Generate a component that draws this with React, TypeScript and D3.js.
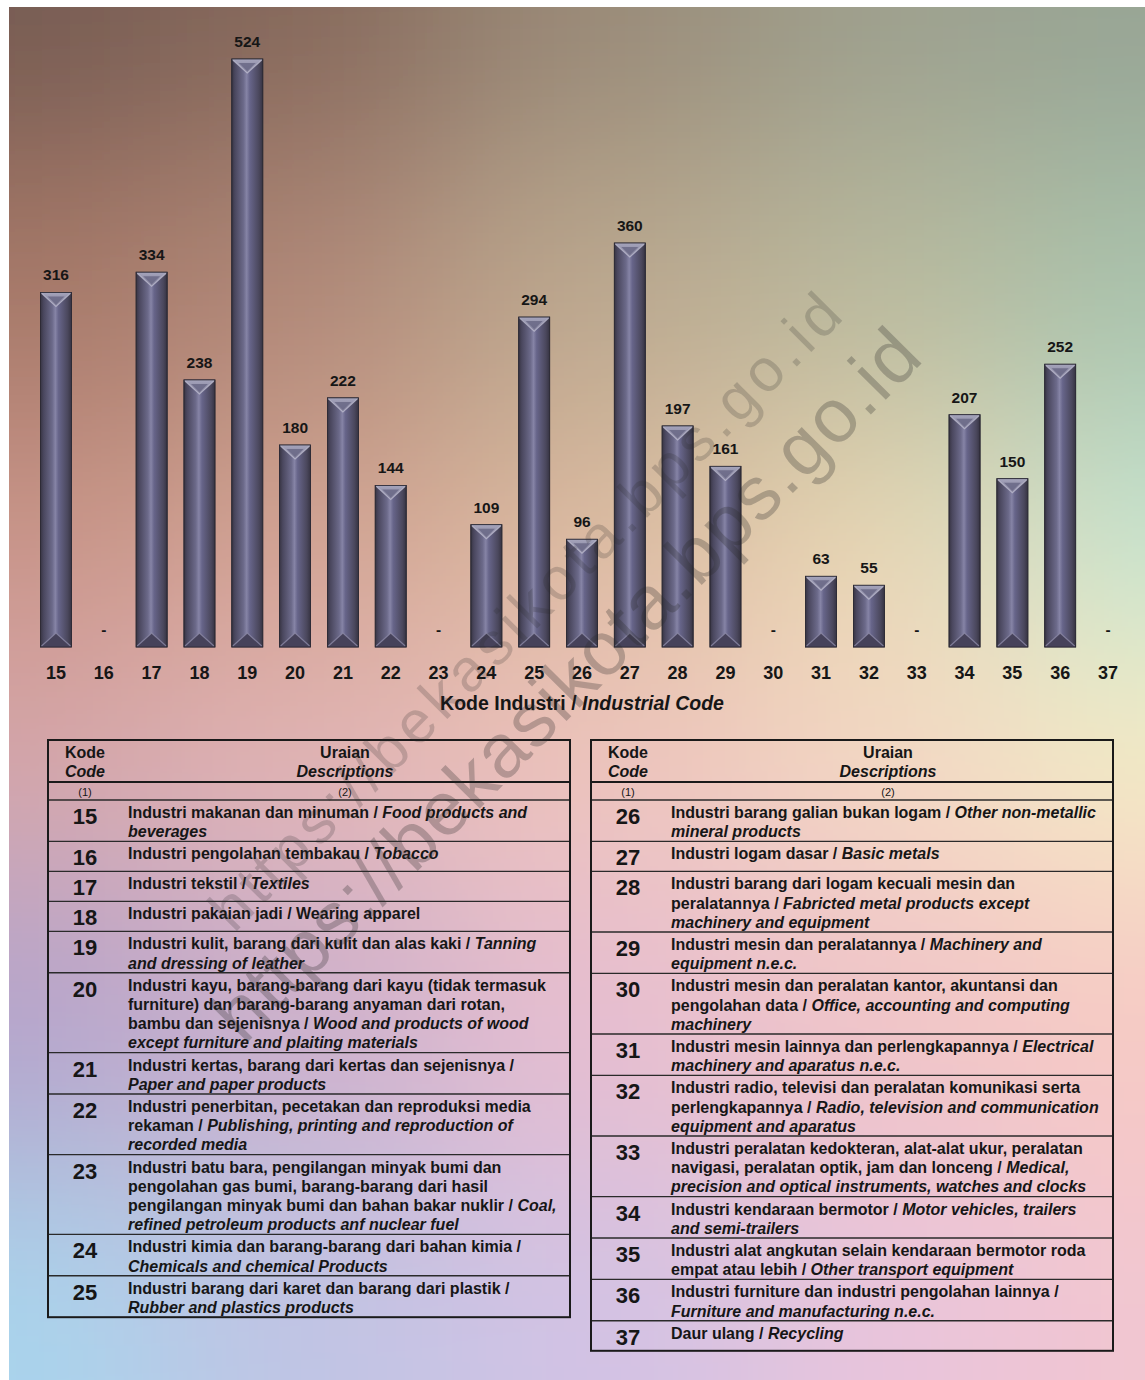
import React from "react";
import * as d3 from "d3";

// ---------- DATA ----------
const codes = ["15","16","17","18","19","20","21","22","23","24","25","26","27","28","29","30","31","32","33","34","35","36","37"];
const counts: (number | null)[] = [316, null, 334, 238, 524, 180, 222, 144, null, 109, 294, 96, 360, 197, 161, null, 63, 55, null, 207, 150, 252, null];
const axisTitleId = "Kode Industri / ";
const axisTitleEn = "Industrial Code";

const headerCodeId = "Kode";
const headerCodeEn = "Code";
const headerDescId = "Uraian";
const headerDescEn = "Descriptions";
const headerNums = ["(1)", "(2)"];

// italic parts wrapped in underscores
const leftTableCodes = ["15","16","17","18","19","20","21","22","23","24","25"];
const leftTableText: string[][] = [
  ["Industri makanan dan minuman / _Food products and_", "_beverages_"],
  ["Industri pengolahan tembakau / _Tobacco_"],
  ["Industri tekstil / _Textiles_"],
  ["Industri pakaian jadi / Wearing apparel"],
  ["Industri kulit, barang dari kulit dan alas kaki / _Tanning_", "_and dressing of leather_"],
  ["Industri kayu, barang-barang dari kayu (tidak termasuk", "furniture) dan barang-barang anyaman dari rotan,", "bambu dan sejenisnya / _Wood and products of wood_", "_except furniture and plaiting materials_"],
  ["Industri kertas, barang dari kertas dan sejenisnya /", "_Paper and paper products_"],
  ["Industri penerbitan, pecetakan dan reproduksi media", "rekaman / _Publishing, printing and reproduction of_", "_recorded media_"],
  ["Industri batu bara, pengilangan minyak bumi dan", "pengolahan gas bumi, barang-barang dari hasil", "pengilangan minyak bumi dan bahan bakar nuklir / _Coal,_", "_refined petroleum products anf nuclear fuel_"],
  ["Industri kimia dan barang-barang dari bahan kimia /", "_Chemicals and chemical Products_"],
  ["Industri barang dari karet dan barang dari plastik /", "_Rubber and plastics products_"],
];
const rightTableCodes = ["26","27","28","29","30","31","32","33","34","35","36","37"];
const rightTableText: string[][] = [
  ["Industri barang galian bukan logam / _Other non-metallic_", "_mineral products_"],
  ["Industri logam dasar / _Basic metals_"],
  ["Industri barang dari logam kecuali mesin dan", "peralatannya / _Fabricted metal products except_", "_machinery and equipment_"],
  ["Industri mesin dan peralatannya / _Machinery and_", "_equipment n.e.c._"],
  ["Industri mesin dan peralatan kantor, akuntansi dan", "pengolahan data / _Office, accounting and computing_", "_machinery_"],
  ["Industri mesin lainnya dan perlengkapannya / _Electrical_", "_machinery and aparatus n.e.c._"],
  ["Industri radio, televisi dan peralatan komunikasi serta", "perlengkapannya / _Radio, television and communication_", "_equipment and aparatus_"],
  ["Industri peralatan kedokteran, alat-alat ukur, peralatan", "navigasi, peralatan optik, jam dan lonceng / _Medical,_", "_precision and optical instruments, watches and clocks_"],
  ["Industri kendaraan bermotor / _Motor vehicles, trailers_", "_and semi-trailers_"],
  ["Industri alat angkutan selain kendaraan bermotor roda", "empat atau lebih / _Other transport equipment_"],
  ["Industri furniture dan industri pengolahan lainnya /", "_Furniture and manufacturing n.e.c._"],
  ["Daur ulang / _Recycling_"],
];

const watermarkText = "https://bekasikota.bps.go.id";

// background colour field (style)
const bgXs = [20, 300, 600, 900, 1130];
const bgYs = [20, 300, 550, 750, 1000, 1350];
const bgColors = [
  ["#765c52", "#86695c", "#9a8a78", "#9ea08e", "#97a595"],
  ["#a67868", "#b08878", "#bba88f", "#b9ba9e", "#a9c2ac"],
  ["#c99488", "#d2a392", "#dcbba0", "#e8d8b4", "#c4e4d0"],
  ["#d6a6a8", "#e2b4b4", "#eec4bc", "#f4d8c4", "#f4ecc4"],
  ["#b4a4cc", "#ccb0cc", "#e6bed0", "#f0c4c8", "#f6cac4"],
  ["#a8d4ec", "#c0c4e4", "#d2c2e4", "#e8c4dc", "#f2c6d0"],
];

// ---------- HELPERS ----------
const W = 1145, H = 1380;
const FONT = "'Liberation Sans', Arial, Helvetica, sans-serif";
const TXT = "#161616";

function parts(line: string) {
  return line.split("_").map((t, i) => ({ t, it: i % 2 === 1 })).filter(p => p.t.length > 0);
}
function bounds(c: number[]) {
  const b = [c[0] - 400];
  for (let i = 0; i < c.length - 1; i++) b.push((c[i] + c[i + 1]) / 2);
  b.push(c[c.length - 1] + 400);
  return b;
}
const rowHeight = (n: number) => (n === 1 ? 30 : n * 19.2 + 3);

function Table({ x0, x1, top, rowCodes, rowText }: { x0: number; x1: number; top: number; rowCodes: string[]; rowText: string[][] }) {
  const headH = 42, subH = 18;
  const codeX = x0 + 37, descCX = x0 + 297, descX = x0 + 80;
  let yy = top + headH + subH;
  const rows = rowCodes.map((c, i) => {
    const h = rowHeight(rowText[i].length);
    const r = { code: c, lines: rowText[i], y: yy, h };
    yy += h;
    return r;
  });
  const bottom = yy;
  return (
    <g fontFamily={FONT} fill={TXT}>
      <text x={codeX} y={top + 18} textAnchor="middle" fontWeight="bold" fontSize={16}>{headerCodeId}</text>
      <text x={codeX} y={top + 37} textAnchor="middle" fontWeight="bold" fontStyle="italic" fontSize={16}>{headerCodeEn}</text>
      <text x={descCX} y={top + 18} textAnchor="middle" fontWeight="bold" fontSize={16}>{headerDescId}</text>
      <text x={descCX} y={top + 37} textAnchor="middle" fontWeight="bold" fontStyle="italic" fontSize={16}>{headerDescEn}</text>
      <text x={codeX} y={top + headH + 14} textAnchor="middle" fontSize={11}>{headerNums[0]}</text>
      <text x={descCX} y={top + headH + 14} textAnchor="middle" fontSize={11}>{headerNums[1]}</text>
      <line x1={x0} x2={x1} y1={top + headH} y2={top + headH} stroke="#1a1a1a" strokeWidth={2} />
      {rows.map((r, i) => (
        <g key={r.code}>
          <line x1={x0} x2={x1} y1={r.y} y2={r.y} stroke="#2a2a2a" strokeWidth={1.4} />
          <text x={codeX} y={r.y + 24} textAnchor="middle" fontWeight="bold" fontSize={22}>{r.code}</text>
          {r.lines.map((ln, k) => (
            <text key={k} x={descX} y={r.y + 18 + k * 19.2} fontWeight="bold" fontSize={16}>
              {parts(ln).map((p, m) => (
                <tspan key={m} fontStyle={p.it ? "italic" : "normal"}>{p.t}</tspan>
              ))}
            </text>
          ))}
        </g>
      ))}
      <rect x={x0} y={top} width={x1 - x0} height={bottom - top} fill="none" stroke="#1a1a1a" strokeWidth={2} />
    </g>
  );
}

export default function App() {
  const x = d3.scalePoint<string>().domain(codes).range([56, 1108]);
  const y = d3.scaleLinear().domain([0, 524]).range([647, 59]);
  const bw = 31;
  const cap = 14;
  const bx = bounds(bgXs), by = bounds(bgYs);

  const wm = [
    { x0: 234, y0: 934, x1: 845, y1: 318, fs: 60, op: 0.2 },
    { x0: 244, y0: 1046, x1: 925, y1: 360, fs: 76, op: 0.27 },
  ];

  return (
    <svg width={W} height={H} style={{ position: "absolute", left: 0, top: 0, display: "block" }} xmlns="http://www.w3.org/2000/svg">
      <defs>
        <filter id="bgblur" filterUnits="userSpaceOnUse" x={-500} y={-500} width={2200} height={2400}>
          <feGaussianBlur stdDeviation={95} />
        </filter>
        <clipPath id="bgclip"><rect x={9} y={7} width={W - 9} height={H - 7} /></clipPath>
        <linearGradient id="barGrad" x1="0" x2="1" y1="0" y2="0">
          <stop offset="0" stopColor="#383544" />
          <stop offset="0.1" stopColor="#4a475e" />
          <stop offset="0.38" stopColor="#6c6a8a" />
          <stop offset="0.48" stopColor="#8684a6" />
          <stop offset="0.58" stopColor="#67658a" />
          <stop offset="0.88" stopColor="#4a475c" />
          <stop offset="1" stopColor="#363342" />
        </linearGradient>
        <linearGradient id="capGrad" x1="0" x2="0" y1="0" y2="1">
          <stop offset="0" stopColor="#a6a5bc" />
          <stop offset="1" stopColor="#7e7c98" />
        </linearGradient>
      </defs>
      <rect x={0} y={0} width={W} height={H} fill="#ffffff" />
      <g clipPath="url(#bgclip)">
        <g filter="url(#bgblur)">
          {bgColors.map((row, i) => row.map((c, j) => (
            <rect key={i + "-" + j} x={bx[j]} y={by[i]} width={bx[j + 1] - bx[j] + 1} height={by[i + 1] - by[i] + 1} fill={c} />
          )))}
        </g>
      </g>

      {/* bars */}
      <g>
        {codes.map((c, i) => {
          const v = counts[i];
          const cx = x(c)!;
          if (v === null) return null;
          const x0 = cx - bw / 2, x1 = cx + bw / 2, y0 = y(v), y1 = y(0);
          return (
            <g key={c}>
              <rect x={x0} y={y0} width={bw} height={y1 - y0} fill="url(#barGrad)" stroke="#2c2a35" strokeWidth={0.8} />
              <polygon points={`${x0},${y0} ${x1},${y0} ${cx},${y0 + cap}`} fill="url(#capGrad)" />
              <polygon points={`${x0 + 7},${y0 + 4} ${x1 - 7},${y0 + 4} ${cx},${y0 + cap - 2}`} fill="#6a6886" opacity={0.85} />
              <path d={`M${x0 + 1},${y0 + 1} L${cx},${y0 + cap} L${x1 - 1},${y0 + 1}`} fill="none" stroke="#c4c3d6" strokeWidth={1.2} opacity={0.7} />
              <polygon points={`${x0},${y1} ${x1},${y1} ${cx},${y1 - cap}`} fill="#46425a" />
              <path d={`M${x0 + 1},${y1 - 1} L${cx},${y1 - cap} L${x1 - 1},${y1 - 1}`} fill="none" stroke="#8c8aa6" strokeWidth={1.2} opacity={0.8} />
              <rect x={x0} y={y0} width={bw} height={y1 - y0} fill="none" stroke="#2c2a35" strokeWidth={0.8} />
            </g>
          );
        })}
      </g>

      {/* value labels */}
      <g fontFamily={FONT} fontWeight="bold" fill={TXT} textAnchor="middle">
        {codes.map((c, i) => {
          const v = counts[i];
          return (
            <text key={c} x={x(c)} y={y(v ?? 0) - 12} fontSize={15.5}>{v === null ? "-" : v}</text>
          );
        })}
        {codes.map(c => (
          <text key={"t" + c} x={x(c)} y={678.5} fontSize={18}>{c}</text>
        ))}
        <text x={582} y={710} fontSize={19.5}>
          <tspan>{axisTitleId}</tspan>
          <tspan fontStyle="italic">{axisTitleEn}</tspan>
        </text>
      </g>

      <Table x0={48} x1={570} top={740} rowCodes={leftTableCodes} rowText={leftTableText} />
      <Table x0={591} x1={1113} top={740} rowCodes={rightTableCodes} rowText={rightTableText} />

      {/* watermarks */}
      <g fontFamily={FONT} fill="#2a2a2a">
        {wm.map((w, i) => {
          const ang = (Math.atan2(w.y1 - w.y0, w.x1 - w.x0) * 180) / Math.PI;
          const len = Math.hypot(w.x1 - w.x0, w.y1 - w.y0);
          return (
            <text key={i} transform={`translate(${w.x0},${w.y0}) rotate(${ang})`} fontSize={w.fs} opacity={w.op}
              textLength={len} lengthAdjust="spacing">{watermarkText}</text>
          );
        })}
      </g>
    </svg>
  );
}
